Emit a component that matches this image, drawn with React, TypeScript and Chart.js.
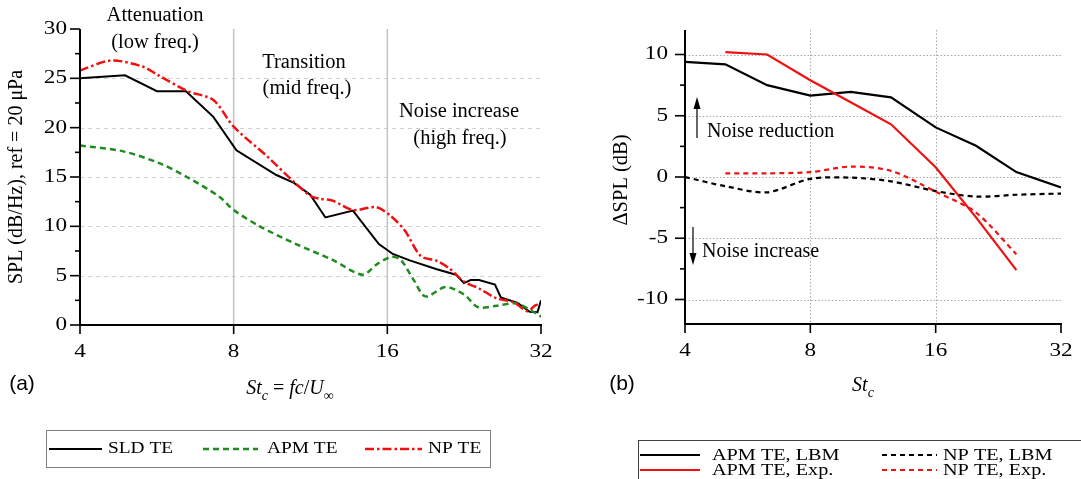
import { useEffect, useRef } from 'react';
import { Chart, registerables } from 'chart.js';

Chart.register(...registerables);

const SERIF = '"Liberation Serif", "Times New Roman", serif';
const SANS = '"Liberation Sans", Arial, sans-serif';

// ---------- Panel (a) data ----------
const stTicks = [4, 8, 16, 32];
const splTicks = [0, 5, 10, 15, 20, 25, 30];
const splMinor = [2.5, 7.5, 12.5, 17.5, 22.5, 27.5];
const splGrid = [5, 10, 15, 20, 25];
const regionSplits = [8, 16];

const sldSt = [4, 4.9, 5.66, 6.45, 7.3, 8.1, 9.7, 10.5, 11.3, 12.1, 13.7, 15.4, 16.4, 17.7, 20.0, 21.8, 22.6, 23.3, 24.2, 26.0, 26.7, 28.8, 30.4, 31.5, 32];
const sldSpl = [25.0, 25.3, 23.7, 23.7, 21.1, 17.7, 15.2, 14.4, 13.2, 10.9, 11.6, 8.2, 7.2, 6.55, 5.65, 5.1, 4.25, 4.56, 4.56, 4.1, 2.8, 2.25, 1.35, 1.3, 2.5];

const apmSt = [4, 4.86, 5.72, 6.48, 7.5, 8.0, 9.0, 10.5, 12.5, 14.3, 15.3, 16.3, 17.0, 18.0, 19.0, 20.8, 22.6, 24.1, 26.2, 28.6, 30.3, 32];
const apmSpl = [18.2, 17.6, 16.4, 15.0, 13.0, 11.65, 10.0, 8.3, 6.6, 5.1, 6.2, 6.9, 6.6, 4.6, 2.9, 3.85, 3.1, 1.8, 1.95, 2.2, 1.6, 0.85];

const npSt = [4, 4.6, 5.3, 5.7, 6.5, 7.3, 8.0, 9.3, 10.5, 11.3, 11.8, 12.5, 13.7, 15.2, 16.2, 17.3, 18.6, 20.0, 21.2, 22.6, 24.2, 26.2, 28.3, 30.1, 31.2, 32];
const npSpl = [25.8, 26.8, 26.2, 25.3, 23.7, 22.8, 20.1, 17.1, 14.5, 13.1, 12.8, 12.6, 11.65, 11.95, 11.1, 9.6, 7.0, 6.5, 5.7, 4.4, 3.7, 2.7, 2.3, 1.4, 2.0, 2.1];

// ---------- Panel (b) data ----------
const dTicks = [-10, -5, 0, 5, 10];
const dMinor = [-7.5, -2.5, 2.5, 7.5];
const bandSt = [4, 5, 6.3, 8, 10, 12.5, 16, 20, 25, 32];
const apmLbm = [9.4, 9.2, 7.5, 6.65, 6.95, 6.5, 4.05, 2.55, 0.4, -0.85];
const npLbm = [0.0, -0.75, -1.25, -0.15, -0.05, -0.35, -1.15, -1.6, -1.45, -1.35];
const expSt = [5, 6.3, 8, 10, 12.5, 16, 20, 25];
const apmExp = [10.2, 10.0, 7.9, 6.1, 4.3, 0.8, -3.3, -7.6];
const npExp = [0.3, 0.3, 0.4, 0.85, 0.5, -1.2, -2.9, -6.3];

const zip = (xs: number[], ys: number[]) => xs.map((x, i) => ({ x, y: ys[i] }));

const C_BLACK = '#000000';
const C_GREEN = '#1e8c1e';
const C_RED = '#f01010';

type Piece = { t: string; italic?: boolean; sub?: boolean };

function drawRich(ctx: CanvasRenderingContext2D, pieces: Piece[], cx: number, baseY: number, size: number) {
  const fontFor = (p: Piece) => `${p.italic ? 'italic ' : ''}${p.sub ? Math.round(size * 0.72) : size}px ${SERIF}`;
  let total = 0;
  const widths = pieces.map((p) => {
    ctx.font = fontFor(p);
    const w = ctx.measureText(p.t).width;
    total += w;
    return w;
  });
  let x = cx - total / 2;
  ctx.textAlign = 'left';
  ctx.textBaseline = 'alphabetic';
  pieces.forEach((p, i) => {
    ctx.font = fontFor(p);
    ctx.fillText(p.t, x, baseY + (p.sub ? size * 0.28 : 0));
    x += widths[i];
  });
}

function line(ctx: CanvasRenderingContext2D, x1: number, y1: number, x2: number, y2: number) {
  ctx.beginPath();
  ctx.moveTo(x1, y1);
  ctx.lineTo(x2, y2);
  ctx.stroke();
}

// text with optional horizontal stretch (the reference's labels are drawn wide)
function text(ctx: CanvasRenderingContext2D, s: string, x: number, y: number, align: CanvasTextAlign = 'center', size = 20.5, sx = 1, family = SERIF) {
  ctx.save();
  ctx.translate(x, y);
  ctx.scale(sx, 1);
  ctx.font = `${size}px ${family}`;
  ctx.textAlign = align;
  ctx.textBaseline = 'middle';
  ctx.fillStyle = '#000';
  ctx.fillText(s, 0, 0);
  ctx.restore();
}

function vText(ctx: CanvasRenderingContext2D, s: string, x: number, y: number, size: number) {
  ctx.save();
  ctx.translate(x, y);
  ctx.rotate(-Math.PI / 2);
  text(ctx, s, 0, 0, 'center', size);
  ctx.restore();
}

function arrow(ctx: CanvasRenderingContext2D, x: number, y1: number, y2: number) {
  const dir = y2 > y1 ? 1 : -1;
  ctx.strokeStyle = '#000';
  ctx.lineWidth = 1.2;
  line(ctx, x, y1, x, y2 - dir * 8);
  ctx.fillStyle = '#000';
  ctx.beginPath();
  ctx.moveTo(x, y2);
  ctx.lineTo(x - 3.5, y2 - dir * 12);
  ctx.lineTo(x + 3.5, y2 - dir * 12);
  ctx.closePath();
  ctx.fill();
}

function sample(ctx: CanvasRenderingContext2D, x1: number, x2: number, y: number, color: string, dash: number[], w: number) {
  ctx.save();
  ctx.strokeStyle = color;
  ctx.lineWidth = w;
  ctx.setLineDash(dash);
  line(ctx, x1, y, x2, y);
  ctx.restore();
}

const TICK_SIZE = 19;
const TICK_SX = 1.22;

function drawAxes(chart: any, yMajor: number[], yMinor: number[], xTicks: number[], yLabelGap: number) {
  const { ctx, chartArea: a, scales } = chart;
  const x = scales.x;
  const y = scales.y;
  ctx.save();
  ctx.strokeStyle = '#000';
  ctx.lineWidth = 2;
  line(ctx, a.left, a.top, a.left, a.bottom + 1);
  line(ctx, a.left - 1, a.bottom, a.right + 1, a.bottom);
  ctx.lineWidth = 1.6;
  for (const v of yMajor) {
    const py = y.getPixelForValue(v);
    line(ctx, a.left - 10, py, a.left, py);
    text(ctx, String(v), a.left - yLabelGap, py, 'right', TICK_SIZE, TICK_SX);
  }
  for (const v of yMinor) {
    const py = y.getPixelForValue(v);
    line(ctx, a.left - 5, py, a.left, py);
  }
  for (const v of xTicks) {
    const px = x.getPixelForValue(v);
    line(ctx, px, a.bottom, px, a.bottom + 9);
    text(ctx, String(v), px, a.bottom + 27, 'center', TICK_SIZE, TICK_SX);
  }
  ctx.restore();
}

const decorA = {
  id: 'decorA',
  beforeDatasetsDraw(chart: any) {
    const { ctx, chartArea: a, scales } = chart;
    ctx.save();
    ctx.strokeStyle = '#cfcfcf';
    ctx.lineWidth = 1;
    ctx.setLineDash([4, 4]);
    for (const v of splGrid) {
      const py = Math.round(scales.y.getPixelForValue(v)) + 0.5;
      line(ctx, a.left, py, a.right, py);
    }
    ctx.setLineDash([]);
    ctx.strokeStyle = '#c2c2c2';
    ctx.lineWidth = 1.5;
    for (const v of regionSplits) {
      const px = scales.x.getPixelForValue(v);
      line(ctx, px, a.top, px, a.bottom);
    }
    ctx.restore();
  },
  afterDraw(chart: any) {
    const { ctx } = chart;
    drawAxes(chart, splTicks, splMinor, stTicks, 13);
    ctx.save();
    vText(ctx, 'SPL (dB/Hz), ref = 20 \u03bcPa', 17, 177, 20);
    text(ctx, '(a)', 22, 384, 'center', 21, 1, SANS);
    ctx.fillStyle = '#000';
    drawRich(ctx, [
      { t: 'St', italic: true },
      { t: 'c', italic: true, sub: true },
      { t: ' = ' },
      { t: 'fc', italic: true },
      { t: '/' },
      { t: 'U', italic: true },
      { t: '\u221e', sub: true },
    ], 290, 394, 20);
    text(ctx, 'Attenuation', 155, 16);
    text(ctx, '(low freq.)', 155, 43);
    text(ctx, 'Transition', 304, 63);
    text(ctx, '(mid freq.)', 307, 89);
    text(ctx, 'Noise increase', 459, 112);
    text(ctx, '(high freq.)', 460, 139);
    // legend
    ctx.strokeStyle = '#808080';
    ctx.lineWidth = 1;
    ctx.strokeRect(46.5, 430.5, 444, 37);
    const ly = 449;
    sample(ctx, 49, 102, ly, C_BLACK, [], 2.2);
    text(ctx, 'SLD TE', 108, ly, 'left', 17, 1.14);
    sample(ctx, 203, 258, ly, C_GREEN, [6, 4], 2.5);
    text(ctx, 'APM TE', 267, ly, 'left', 17, 1.14);
    sample(ctx, 365, 422, ly, C_RED, [9, 3, 2.5, 3], 2.5);
    text(ctx, 'NP TE', 428, ly, 'left', 17, 1.14);
    ctx.restore();
  },
};

const decorB = {
  id: 'decorB',
  beforeDatasetsDraw(chart: any) {
    const { ctx, chartArea: a, scales } = chart;
    ctx.save();
    ctx.strokeStyle = '#a8a8a8';
    ctx.lineWidth = 1;
    ctx.setLineDash([1.5, 2]);
    for (const v of dTicks) {
      const py = Math.round(scales.y.getPixelForValue(v)) + 0.5;
      line(ctx, a.left, py, a.right, py);
    }
    for (const v of regionSplits) {
      const px = Math.round(scales.x.getPixelForValue(v)) + 0.5;
      line(ctx, px, a.top, px, a.bottom);
    }
    ctx.restore();
  },
  afterDraw(chart: any) {
    const { ctx } = chart;
    drawAxes(chart, dTicks, dMinor, stTicks, 17);
    ctx.save();
    vText(ctx, '\u0394SPL (dB)', 62, 180, 20.5);
    text(ctx, '(b)', 62, 384, 'center', 21, 1, SANS);
    ctx.fillStyle = '#000';
    drawRich(ctx, [
      { t: 'St', italic: true },
      { t: 'c', italic: true, sub: true },
    ], 303, 391, 20);
    arrow(ctx, 137, 138, 97);
    text(ctx, 'Noise reduction', 147, 132, 'left', 20);
    arrow(ctx, 133, 227, 265);
    text(ctx, 'Noise increase', 142, 252, 'left', 20);
    // legend
    ctx.strokeStyle = '#404040';
    ctx.lineWidth = 1;
    ctx.strokeRect(78.5, 440.5, 460, 60);
    const r1 = 455;
    const r2 = 470;
    sample(ctx, 80, 140, r1, C_BLACK, [], 2.2);
    text(ctx, 'APM TE, LBM', 152, r1, 'left', 17.3, 1.17);
    sample(ctx, 322, 377, r1, C_BLACK, [5, 4], 2.2);
    text(ctx, 'NP TE, LBM', 383, r1, 'left', 17.3, 1.17);
    sample(ctx, 80, 140, r2, C_RED, [], 2.2);
    text(ctx, 'APM TE, Exp.', 152, r2, 'left', 17.3, 1.17);
    sample(ctx, 322, 377, r2, C_RED, [5, 4], 2.2);
    text(ctx, 'NP TE, Exp.', 383, r2, 'left', 17.3, 1.17);
    ctx.restore();
  },
};

function makeScales(yMin: number, yMax: number, yTicks: number[], yWidth: number) {
  return {
    x: {
      type: 'logarithmic' as const,
      min: 4,
      max: 32,
      position: 'bottom' as const,
      afterBuildTicks: (s: any) => {
        s.ticks = stTicks.map((v) => ({ value: v }));
      },
      afterFit: (s: any) => {
        s.height = 60;
      },
      grid: { display: false, drawTicks: false },
      border: { display: false },
      ticks: { display: false },
    },
    y: {
      type: 'linear' as const,
      min: yMin,
      max: yMax,
      afterBuildTicks: (s: any) => {
        s.ticks = yTicks.map((v) => ({ value: v }));
      },
      afterFit: (s: any) => {
        s.width = yWidth;
      },
      grid: { display: false, drawTicks: false },
      border: { display: false },
      ticks: { display: false },
    },
  };
}

export default function App() {
  const refA = useRef<HTMLCanvasElement>(null);
  const refB = useRef<HTMLCanvasElement>(null);

  useEffect(() => {
    const chartA = new Chart(refA.current!, {
      type: 'line',
      data: {
        datasets: [
          { label: 'NP TE', data: zip(npSt, npSpl), borderColor: C_RED, borderWidth: 2.5, borderDash: [9, 3, 2.5, 3], pointRadius: 0, tension: 0.3, fill: false },
          { label: 'APM TE', data: zip(apmSt, apmSpl), borderColor: C_GREEN, borderWidth: 2.5, borderDash: [6, 4], pointRadius: 0, tension: 0.3, fill: false },
          { label: 'SLD TE', data: zip(sldSt, sldSpl), borderColor: C_BLACK, borderWidth: 2, pointRadius: 0, tension: 0, fill: false },
        ],
      },
      options: {
        responsive: false,
        animation: false,
        events: [],
        layout: { padding: { left: 0, top: 29, right: 19, bottom: 479 - 325 - 60 } },
        plugins: { legend: { display: false }, tooltip: { enabled: false }, title: { display: false } },
        scales: makeScales(0, 30, splTicks, 80),
      },
      plugins: [decorA],
    });

    const chartB = new Chart(refB.current!, {
      type: 'line',
      data: {
        datasets: [
          { label: 'NP TE, Exp.', data: zip(expSt, npExp), borderColor: C_RED, borderWidth: 2.2, borderDash: [5, 4], pointRadius: 0, tension: 0.3, fill: false },
          { label: 'NP TE, LBM', data: zip(bandSt, npLbm), borderColor: C_BLACK, borderWidth: 2.2, borderDash: [5, 4], pointRadius: 0, tension: 0.3, fill: false },
          { label: 'APM TE, Exp.', data: zip(expSt, apmExp), borderColor: C_RED, borderWidth: 2.2, pointRadius: 0, tension: 0, fill: false },
          { label: 'APM TE, LBM', data: zip(bandSt, apmLbm), borderColor: C_BLACK, borderWidth: 2.2, pointRadius: 0, tension: 0, fill: false },
        ],
      },
      options: {
        responsive: false,
        animation: false,
        events: [],
        layout: { padding: { left: 0, top: 30, right: 20, bottom: 479 - 324 - 60 } },
        plugins: { legend: { display: false }, tooltip: { enabled: false }, title: { display: false } },
        scales: makeScales(-12, 12, dTicks, 125),
      },
      plugins: [decorB],
    });

    return () => {
      chartA.destroy();
      chartB.destroy();
    };
  }, []);

  return (
    <div style={{ position: 'absolute', left: 0, top: 0, width: 1081, height: 479, background: '#fff', overflow: 'hidden' }}>
      <canvas ref={refA} width={560} height={479} style={{ position: 'absolute', left: 0, top: 0, width: 560, height: 479 }} />
      <canvas ref={refB} width={521} height={479} style={{ position: 'absolute', left: 560, top: 0, width: 521, height: 479 }} />
    </div>
  );
}
